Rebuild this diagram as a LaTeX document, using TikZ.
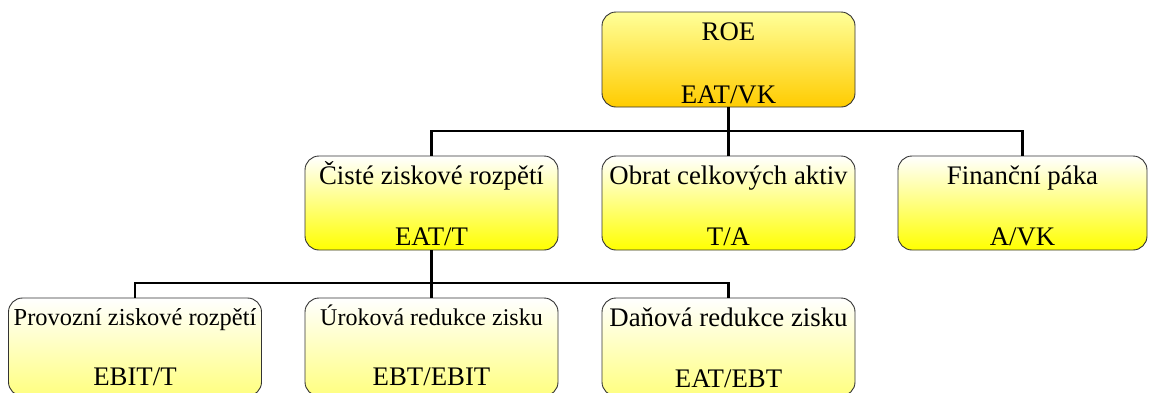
\documentclass[tikz,border=0pt]{standalone}
\usepackage{fontspec}
\setmainfont{Liberation Serif}
\usetikzlibrary{calc}
\begin{document}
\begin{tikzpicture}[x=1pt,y=-1pt,
  box/.style={draw=black!80,line width=0.9pt,rounded corners=14pt,inner sep=0pt,minimum width=253pt},
  lvla/.style={box,top color=yellow!40,bottom color={rgb,255:red,255;green,204;blue,0},minimum height=95pt},
  lvlb/.style={box,top color=white,bottom color=yellow,minimum height=94pt},
  lvlc/.style={box,top color=white,bottom color=yellow!50,minimum height=98pt},
  txt/.style={anchor=base,inner sep=0pt,font=\fontsize{26.8}{30}\selectfont},
  conn/.style={draw=black,line width=2.2pt}]
\useasboundingbox (0,0) rectangle (1149,392);
\clip (0,0) rectangle (1149,392);
% level 1
\node[lvla] (roe) at (728.5,59.5) {};
\node[txt] (roet) at ($(roe.north)+(0,29)$) {ROE};
\node[txt] (roeb) at ($(roe.south)+(0,-4)$) {EAT/VK};
% level 2
\node[lvlb] (c1) at (431.5,203) {};
\node[lvlb] (c2) at (728.5,203) {};
\node[lvlb,minimum width=249pt] (c3) at (1022.5,203) {};
\node[txt] (c1t) at ($(c1.north)+(0,29)$) {Čisté ziskové rozpětí};
\node[txt] (c1b) at ($(c1.south)+(0,-5)$) {EAT/T};
\node[txt] (c2t) at ($(c2.north)+(0,29)$) {Obrat celkových aktiv};
\node[txt] (c2b) at ($(c2.south)+(0,-5)$) {T/A};
\node[txt] (c3t) at ($(c3.north)+(0,29)$) {Finanční páka};
\node[txt] (c3b) at ($(c3.south)+(0,-5)$) {A/VK};
% level 3
\node[lvlc] (d1) at (135,347) {};
\node[lvlc] (d2) at (431.5,347) {};
\node[lvlc] (d3) at (728.5,347) {};
\node[txt,font=\fontsize{24.4}{28}\selectfont] (d1t) at ($(d1.north)+(0,28)$) {Provozní ziskové rozpětí};
\node[txt] (d1b) at ($(d1.south)+(0,-11)$) {EBIT/T};
\node[txt,font=\fontsize{24}{28}\selectfont] (d2t) at ($(d2.north)+(0,28)$) {Úroková redukce zisku};
\node[txt] (d2b) at ($(d2.south)+(0,-11)$) {EBT/EBIT};
\node[txt] (d3t) at ($(d3.north)+(0,29)$) {Daňová redukce zisku};
\node[txt] (d3b) at ($(d3.south)+(0,-9)$) {EAT/EBT};
% connectors
\coordinate (b1) at (728.5,131);
\coordinate (b2) at (431.5,283);
\draw[conn] (roe.south) -- (b1);
\draw[conn] (c1.north) |- (b1) -| (c3.north);
\draw[conn] (c2.north) -- (b1);
\draw[conn] (c1.south) -- (b2);
\draw[conn] (d1.north) |- (b2) -| (d3.north);
\draw[conn] (d2.north) -- (b2);
\end{tikzpicture}
\end{document}
